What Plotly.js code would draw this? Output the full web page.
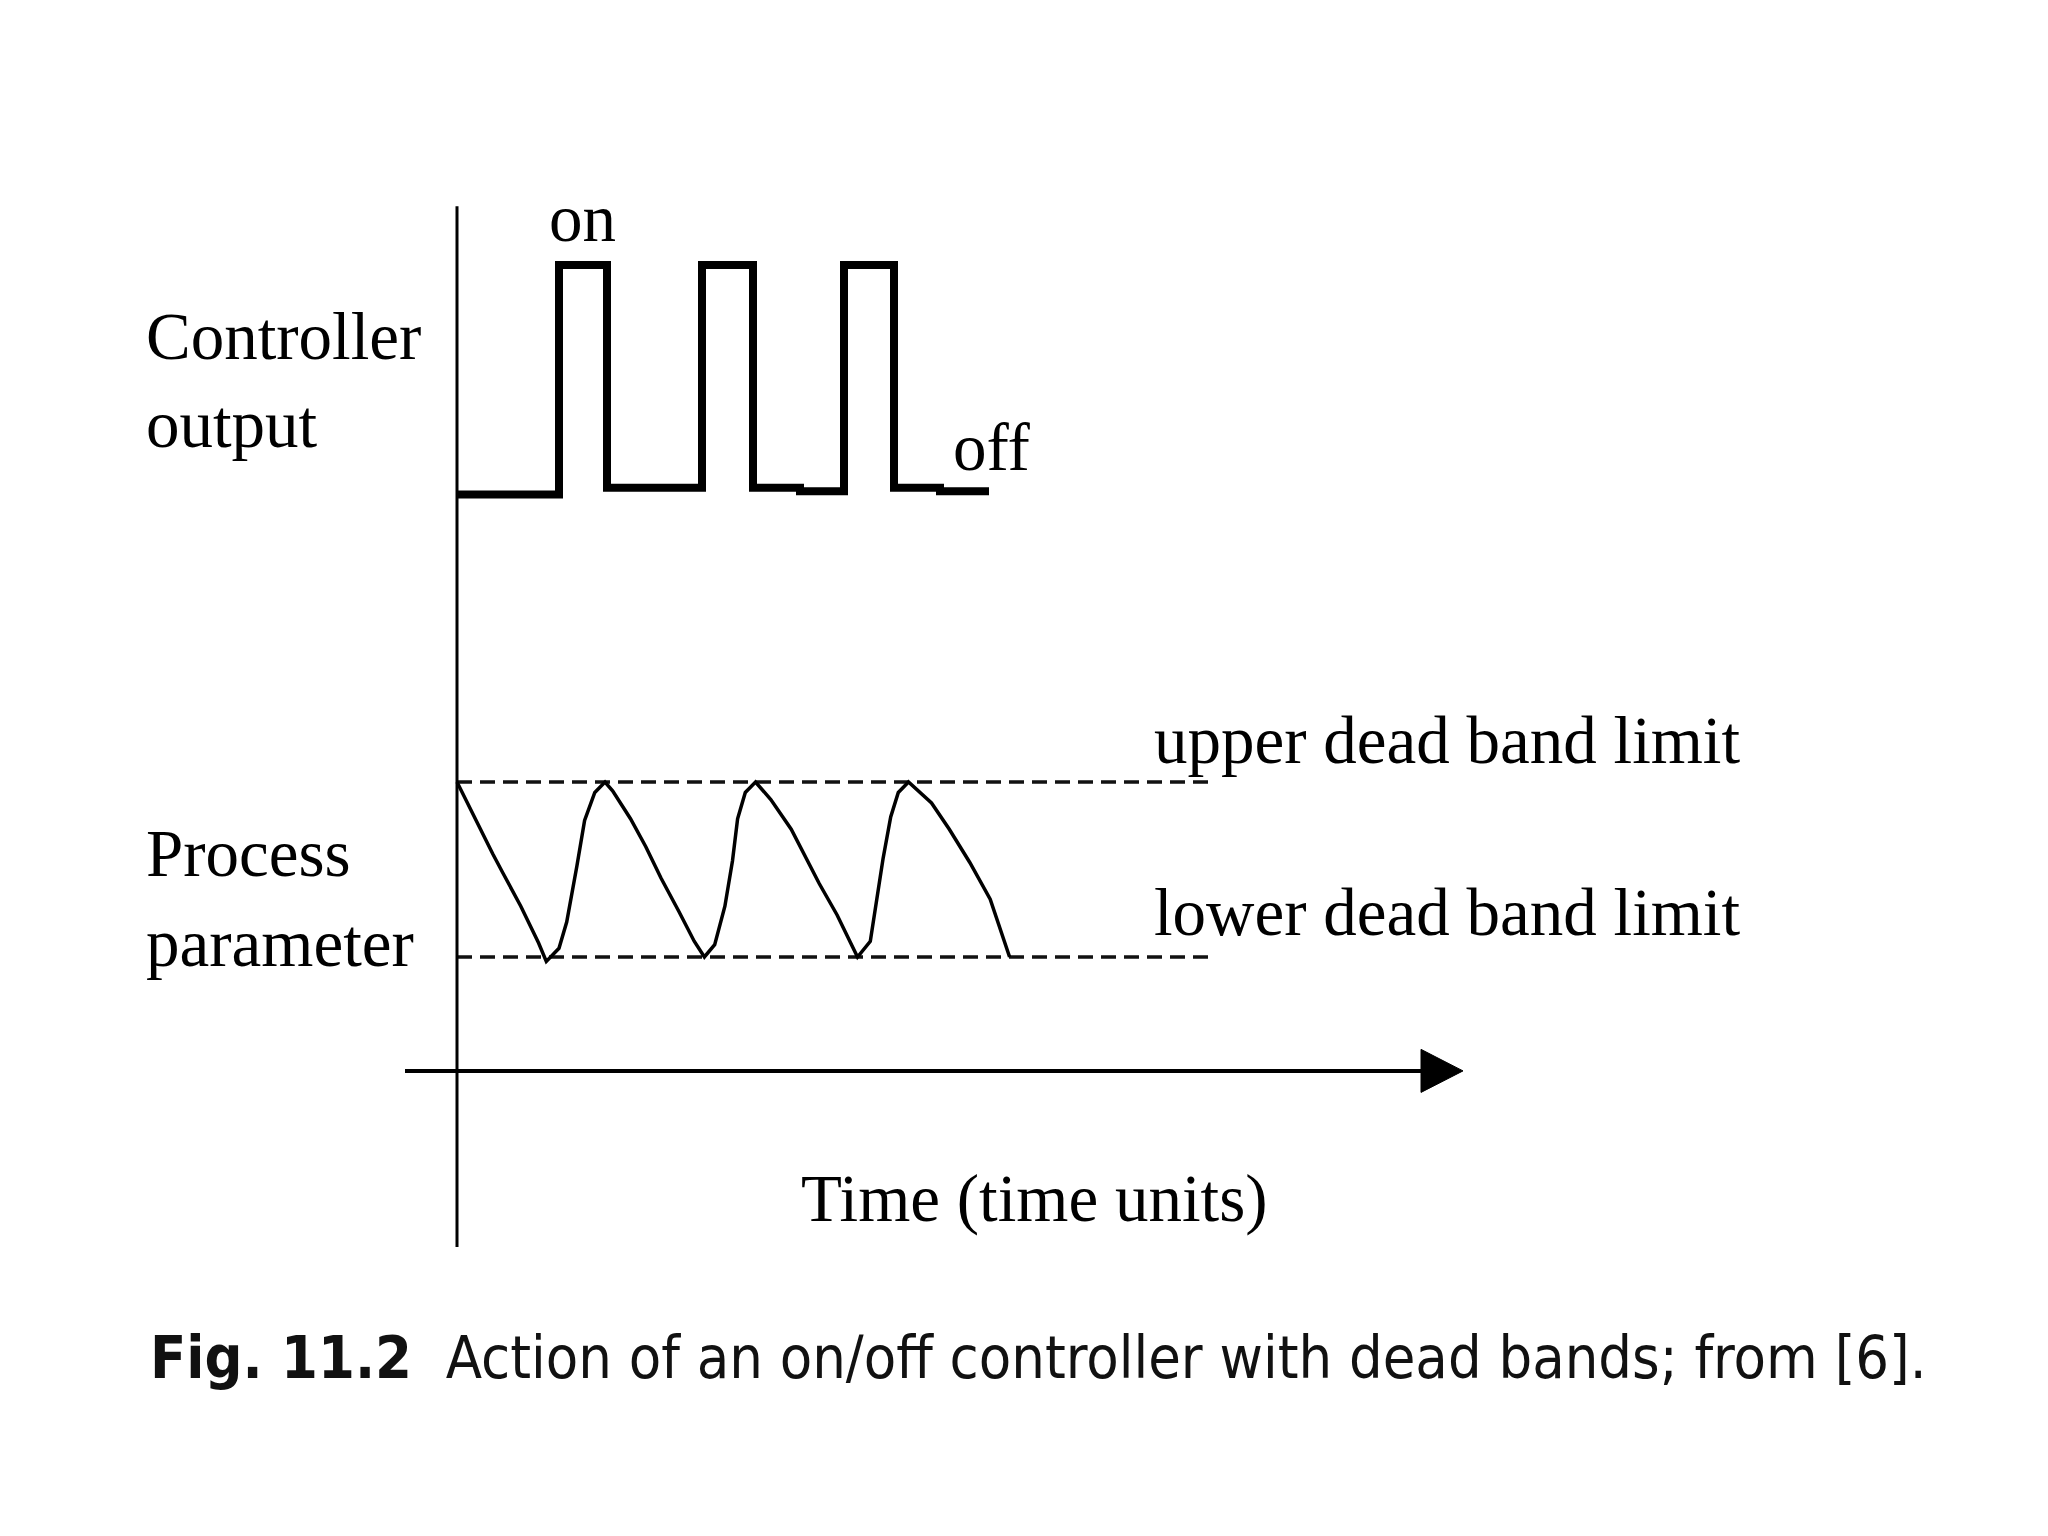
<!DOCTYPE html>
<html>
<head>
<meta charset="utf-8">
<script src="https://cdn.plot.ly/plotly-3.0.1.min.js"></script>
<style>html,body{margin:0;padding:0;background:#fff;}#chart{width:2048px;height:1536px;}</style>
</head>
<body>
<div id="chart"></div>
<script>
// Controller output (step signal): 1 = on, 0 = off
var ctrlTime  = [0, 10.2, 15.0, 24.5, 29.6, 34.3, 38.7, 43.7, 48.3, 53.2];
var ctrlValue = [-0.02, 1, 0.01, 1, 0.01, -0.005, 1, 0.01, -0.005, -0.005];

// Process parameter (0 = lower dead band limit, 1 = upper dead band limit)
var procTime = [0, 1.79, 3.57, 4.59, 6.38, 8.16, 8.93,
  10.2, 10.97, 11.99, 12.76, 13.78, 14.8,
  15.56, 17.35, 18.88, 20.41, 22.19, 23.72, 24.74,
  25.77, 26.79, 27.55, 28.06, 28.83, 29.85,
  31.38, 33.42, 34.69, 36.22, 38.01, 39.54, 40.05,
  41.33, 41.84, 42.6, 43.37, 44.13, 45.15,
  47.45, 49.23, 51.28, 53.32, 55.1, 55.26];
var procValue = [1, 0.79, 0.59, 0.48, 0.29, 0.08, -0.025,
  0.05, 0.2, 0.52, 0.78, 0.94, 1,
  0.95, 0.79, 0.63, 0.45, 0.26, 0.09, 0,
  0.07, 0.29, 0.55, 0.79, 0.94, 1,
  0.9, 0.73, 0.59, 0.42, 0.24, 0.06, 0,
  0.09, 0.28, 0.56, 0.8, 0.94, 1,
  0.88, 0.73, 0.54, 0.33, 0.04, 0];

// Dead band limits
var bandTime = [0, 75.8];
var upperLimit = [1, 1];
var lowerLimit = [0, 0];

// Text labels
var labelController = ["Controller", "output"];
var labelProcess = ["Process", "parameter"];
var labelOn = "on";
var labelOff = "off";
var labelUpper = "upper dead band limit";
var labelLower = "lower dead band limit";
var labelTime = "Time (time units)";
var captionBold = "Fig. 11.2";
var captionText = "Action of an on/off controller with dead bands; from [6].";

var serif = "Liberation Serif, Times New Roman, serif";
var textSize = 67;

var traces = [
  {x: bandTime, y: upperLimit, xaxis: 'x', yaxis: 'y2', mode: 'lines',
   line: {color: '#111', width: 3.5, dash: '15px,8px'}, hoverinfo: 'skip'},
  {x: bandTime, y: lowerLimit, xaxis: 'x', yaxis: 'y2', mode: 'lines',
   line: {color: '#111', width: 3.5, dash: '15px,8px'}, hoverinfo: 'skip'},
  {x: procTime, y: procValue, xaxis: 'x', yaxis: 'y2', mode: 'lines',
   line: {color: '#000', width: 3.5}, hoverinfo: 'skip'},
  {x: ctrlTime, y: ctrlValue, xaxis: 'x', yaxis: 'y', mode: 'lines',
   line: {color: '#000', width: 8, shape: 'hv'}, hoverinfo: 'skip'}
];

function lbl(text, x, y, yref, anchor) {
  return {text: text, x: x, y: y, xref: 'x', yref: yref, showarrow: false,
          xanchor: anchor || 'left', yanchor: 'middle',
          font: {family: serif, size: textSize, color: '#000'}};
}

var annotations = [
  lbl(labelController[0], -31.3, 0.684, 'y'),
  lbl(labelController[1], -31.3, 0.293, 'y'),
  lbl(labelOn, 12.5, 1.21, 'y', 'center'),
  lbl(labelOff, 49.4, 0.19, 'y'),
  lbl(labelProcess[0], -31.3, 0.594, 'y2'),
  lbl(labelProcess[1], -31.3, 0.08, 'y2'),
  lbl(labelUpper, 69.5, 1.24, 'y2'),
  lbl(labelLower, 69.5, 0.257, 'y2'),
  lbl(labelTime, 57.7, -1.383, 'y2', 'center'),
  {text: '<b>' + captionBold + '</b>\u00a0\u00a0' + captionText,
   x: 0.0723, y: 0.1159, xref: 'paper', yref: 'paper', showarrow: false,
   xanchor: 'left', yanchor: 'middle',
   font: {family: "Liberation Sans Narrow, DejaVu Sans Condensed, Noto Sans, sans-serif", size: 59, color: '#111'}}
];

var shapes = [
  // vertical axis
  {type: 'line', xref: 'x', yref: 'y2', x0: 0, x1: 0, y0: 4.291, y1: -1.657,
   line: {color: '#000', width: 3}},
  // time axis
  {type: 'line', xref: 'x', yref: 'y2', x0: -5.2, x1: 97, y0: -0.651, y1: -0.651,
   line: {color: '#000', width: 4}},
  // arrow head
  {type: 'path', xref: 'x', yref: 'y2', path: 'M 96.4 -0.528 L 100.6 -0.651 L 96.4 -0.774 Z',
   fillcolor: '#000', line: {color: '#000', width: 1}}
];

var layout = {
  width: 2048, height: 1536,
  margin: {l: 0, r: 0, t: 0, b: 0},
  paper_bgcolor: '#fff', plot_bgcolor: '#fff',
  showlegend: false,
  xaxis: {range: [-45.7, 159.1], visible: false, domain: [0, 1]},
  yaxis: {range: [-4.649, 2.178], visible: false, domain: [0, 1]},
  yaxis2: {range: [-3.309, 5.469], visible: false, domain: [0, 1], overlaying: 'y'},
  annotations: annotations,
  shapes: shapes
};

Plotly.newPlot('chart', traces, layout, {staticPlot: true, responsive: false});
</script>
</body>
</html>
